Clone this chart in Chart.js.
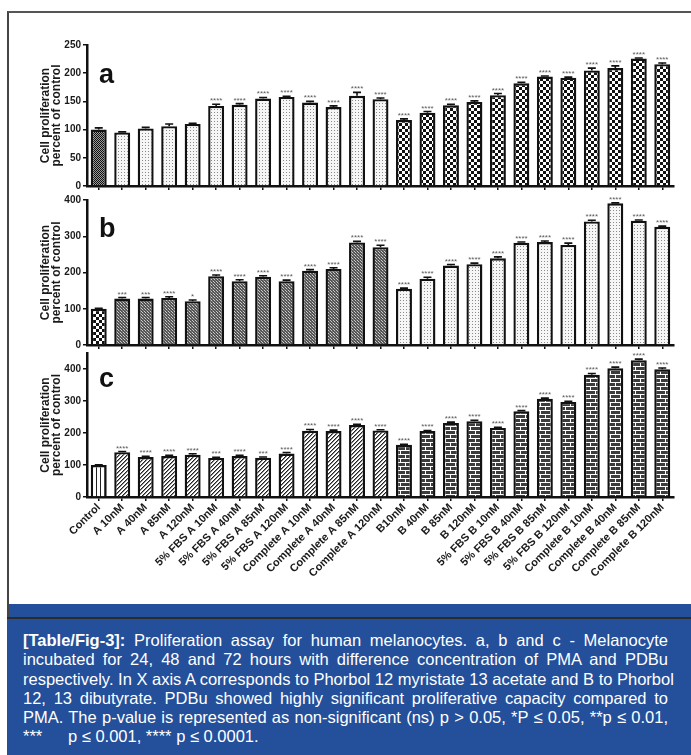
<!DOCTYPE html>
<html>
<head>
<meta charset="utf-8">
<script src="https://cdn.jsdelivr.net/npm/chart.js@4.4.1/dist/chart.umd.min.js"></script>
<style>
  html, body { margin: 0; padding: 0; background: #fff; }
  body { width: 691px; height: 755px; position: relative; overflow: hidden; font-family: "Liberation Sans", Arial, sans-serif; }
  #frame { position: absolute; left: 7px; top: 11px; width: 700px; height: 606px; border-top: 2px solid #555; border-left: 2px solid #444; box-sizing: border-box; }
  #band { position: absolute; left: 9px; top: 604px; width: 682px; height: 13px; background: #234f9b; }
  #rule { position: absolute; left: 7px; top: 617px; width: 684px; height: 2px; background: #2b2b2b; }
  #capbg { position: absolute; left: 7px; top: 619px; width: 684px; height: 136px; background: #234f9b; }
  #caption { position: absolute; left: 23px; top: 631px; width: 645px; color: #fff; font-family: "Liberation Sans Narrow", "Liberation Sans", Arial, sans-serif; font-size: 16.5px; line-height: 19.3px; }
  #caption div { text-align: justify; text-align-last: justify; white-space: nowrap; }
  #caption div.last { text-align-last: left; }
  #caption b { font-weight: bold; }
  canvas { position: absolute; left: 0; }
</style>
</head>
<body>
<div id="frame"></div>
<div id="band"></div>
<div id="rule"></div>
<div id="capbg"></div>
<canvas id="ca" width="691" height="165" style="top:30px"></canvas>
<canvas id="cb" width="691" height="169" style="top:185px"></canvas>
<canvas id="cc" width="691" height="262" style="top:338px"></canvas>
<div id="caption">
  <div><b>[Table/Fig-3]:</b> Proliferation assay for human melanocytes. a, b and c - Melanocyte</div>
  <div>incubated for 24, 48 and 72 hours with difference concentration of PMA and PDBu</div>
  <div>respectively. In X axis A corresponds to Phorbol 12 myristate 13 acetate and B to Phorbol</div>
  <div>12, 13 dibutyrate. PDBu showed highly significant proliferative capacity compared to</div>
  <div>PMA. The p-value is represented as non-significant (ns) p &gt; 0.05, *P ≤ 0.05, **p ≤ 0.01,</div>
  <div class="last"><span style="display:inline-block;width:45px">***</span>p ≤ 0.001, **** p ≤ 0.0001.</div>
</div>
<script>
// ---------- data ----------
const categories = ['Control','A 10nM','A 40nM','A 85nM','A 120nM','5% FBS A 10nM','5% FBS A 40nM','5% FBS A 85nM','5% FBS A 120nM','Complete A 10nM','Complete A 40nM','Complete A 85nM','Complete A 120nM','B10nM','B 40nM','B 85nM','B 120nM','5% FBS B 10nM','5% FBS B 40nM','5% FBS B 85nM','5% FBS B 120nM','Complete B 10nM','Complete B 40nM','Complete B 85nM','Complete B 120nM'];
const groups = ['control','A','A','A','A','A','A','A','A','A','A','A','A','B','B','B','B','B','B','B','B','B','B','B','B'];

const values24h = [100,95,102,106,110,142,144,155,158,148,140,160,154,117,130,143,149,161,182,194,192,205,209,226,216];
const errors24h = [3,1,2,4,1,3,2,2,1,2,2,6,2,2,2,2,2,3,2,1,1,4,4,1,2];
const stars24h  = ['','','','','','****','****','****','****','****','****','****','****','****','****','****','****','****','****','****','****','****','****','****','****'];

const values48h = [100,128,128,130,121,190,176,188,176,205,210,283,270,155,183,219,223,239,282,284,276,341,391,343,326];
const errors48h = [1,3,3,3,3,3,4,3,3,3,3,3,5,2,4,3,3,4,2,3,5,3,1,2,2];
const stars48h  = ['','***','***','****','*','****','****','****','****','****','****','****','****','****','****','****','****','****','****','****','****','****','****','****','****'];

const values72h = [100,140,125,128,132,122,128,123,136,207,206,225,208,163,206,231,237,216,268,307,297,382,402,427,399];
const errors72h = [1,2,2,2,3,2,2,2,3,4,3,2,2,2,2,3,3,2,2,2,2,4,4,4,4];
const stars72h  = ['','****','****','****','****','***','****','***','****','****','****','****','****','****','****','****','****','****','****','****','****','****','****','****','****'];

const yTicks24h = {max: 250, step: 50};
const yTicks48h = {max: 400, step: 100};
const yTicks72h = {max: 450, step: 100};

// ---------- patterns ----------
function makePattern(w, h, draw) {
  const c = document.createElement('canvas');
  c.width = w; c.height = h;
  const g = c.getContext('2d');
  draw(g);
  return g.createPattern(c, 'repeat');
}
const fineDark = makePattern(2, 2, g => { g.fillStyle = '#9a9a9a'; g.fillRect(0,0,2,2); g.fillStyle = '#111'; g.fillRect(0,0,1,1); g.fillRect(1,1,1,1); });
const dotted = makePattern(3, 3, g => { g.fillStyle = '#f6f6f6'; g.fillRect(0,0,3,3); g.fillStyle = '#8a8a8a'; g.fillRect(1,1,1,1); });
const checker = makePattern(6, 6, g => { g.fillStyle = '#fff'; g.fillRect(0,0,6,6); g.fillStyle = '#111'; g.fillRect(0,0,3,3); g.fillRect(3,3,3,3); });
const fineGrey = makePattern(3, 3, g => { g.fillStyle = '#555'; g.fillRect(0,0,3,3); g.fillStyle = '#ccc'; g.fillRect(1,1,1,1); g.fillRect(0,0,1,1); g.fillStyle = '#888'; g.fillRect(2,2,1,1); });
const vstripe = makePattern(4, 4, g => { g.fillStyle = '#fff'; g.fillRect(0,0,4,4); g.fillStyle = '#222'; g.fillRect(0,0,1,4); });
const hatch = makePattern(4, 4, g => { g.fillStyle = '#fff'; g.fillRect(0,0,4,4); g.fillStyle = '#222'; for (let i = 0; i < 4; i++) g.fillRect(i, 3 - i, 1, 1); g.fillStyle = '#888'; for (let i = 0; i < 4; i++) g.fillRect((i+1)%4, 3 - i, 1, 1); });
const brick = makePattern(10, 8, g => { g.fillStyle = '#3c3c3c'; g.fillRect(0,0,10,8); g.fillStyle = '#fff'; g.fillRect(0,0,10,1); g.fillRect(0,4,10,1); g.fillRect(0,0,1,4); g.fillRect(5,4,1,4); });

const fills24h = {control: fineDark, A: dotted, B: checker};
const fills48h = {control: checker, A: fineGrey, B: dotted};
const fills72h = {control: vstripe, A: hatch, B: brick};

// ---------- annotation plugin (error bars, stars, panel letter) ----------
const annot = {
  id: 'annot',
  afterDatasetsDraw(chart) {
    const p = chart.options.plugins.annot;
    const ctx = chart.ctx;
    const ys = chart.scales.y;
    const meta = chart.getDatasetMeta(0);
    ctx.save();
    meta.data.forEach((bar, i) => {
      const v = p.values[i], e = p.errors[i];
      const y0 = ys.getPixelForValue(v);
      const y1 = ys.getPixelForValue(v + e);
      ctx.strokeStyle = '#111';
      ctx.lineWidth = 1.6;
      ctx.beginPath();
      ctx.moveTo(bar.x, y0); ctx.lineTo(bar.x, y1);
      ctx.moveTo(bar.x - 4, y1); ctx.lineTo(bar.x + 4, y1);
      ctx.stroke();
      if (p.stars[i]) {
        ctx.fillStyle = '#5a5a5a';
        ctx.font = '8px "Liberation Sans", Arial, sans-serif';
        ctx.textAlign = 'center';
        ctx.textBaseline = 'alphabetic';
        ctx.fillText(p.stars[i], bar.x, y1 - 1);
      }
    });
    ctx.fillStyle = '#111';
    ctx.font = 'bold 27px "Liberation Sans", Arial, sans-serif';
    ctx.textAlign = 'left';
    ctx.textBaseline = 'alphabetic';
    ctx.fillText(p.letter, chart.chartArea.left + 12, chart.chartArea.top + p.letterDy);
    ctx.restore();
  }
};

function makePanel(id, values, errors, stars, fills, yt, letter, letterDy, showLabels, padTop) {
  const tickFont = {family: '"Liberation Sans", Arial, sans-serif', size: 10, weight: 'bold'};
  const xFont = {family: '"Liberation Sans", Arial, sans-serif', size: 11, weight: 'bold'};
  new Chart(document.getElementById(id), {
    type: 'bar',
    data: {
      labels: categories,
      datasets: [{
        data: values,
        backgroundColor: groups.map(g => fills[g]),
        borderColor: '#111',
        borderWidth: 2.4,
        borderSkipped: 'bottom',
        barPercentage: 0.68,
        categoryPercentage: 1.0
      }]
    },
    options: {
      responsive: false,
      animation: false,
      devicePixelRatio: 1,
      layout: {padding: {left: 36, right: 17, top: padTop, bottom: showLabels ? 0 : 5}},
      plugins: {
        legend: {display: false},
        tooltip: {enabled: false},
        annot: {values, errors, stars, letter, letterDy}
      },
      scales: {
        x: {
          grid: {display: true, drawOnChartArea: false, drawTicks: true, tickLength: 4, color: '#111', lineWidth: 1.5, offset: false},
          border: {display: true, color: '#111', width: 2.5},
          ticks: {display: showLabels, autoSkip: false, minRotation: 45, maxRotation: 45, color: '#1a1a1a', font: xFont, padding: 0},
          afterFit: showLabels ? (ax => { ax.height = 103; }) : undefined
        },
        y: {
          min: 0, max: yt.max,
          grid: {display: true, drawOnChartArea: false, drawTicks: true, tickLength: 4, color: '#111', lineWidth: 1.5},
          border: {display: true, color: '#111', width: 2.5},
          ticks: {stepSize: yt.step, includeBounds: false, color: '#1a1a1a', font: tickFont, padding: 2},
          title: {display: true, text: ['Cell proliferation', 'percent of control'], color: '#1a1a1a',
                  font: {family: '"Liberation Sans", Arial, sans-serif', size: 12, weight: 'bold', lineHeight: 0.95},
                  padding: {top: 3.5, bottom: 0}},
          afterFit: ax => { ax.width = 51; }
        }
      }
    },
    plugins: [annot]
  });
}

makePanel('ca', values24h, errors24h, stars24h, fills24h, yTicks24h, 'a', 38, false, 15);
makePanel('cb', values48h, errors48h, stars48h, fills48h, yTicks48h, 'b', 37, false, 15);
makePanel('cc', values72h, errors72h, stars72h, fills72h, yTicks72h, 'c', 34, true, 15);
</script>
</body>
</html>
